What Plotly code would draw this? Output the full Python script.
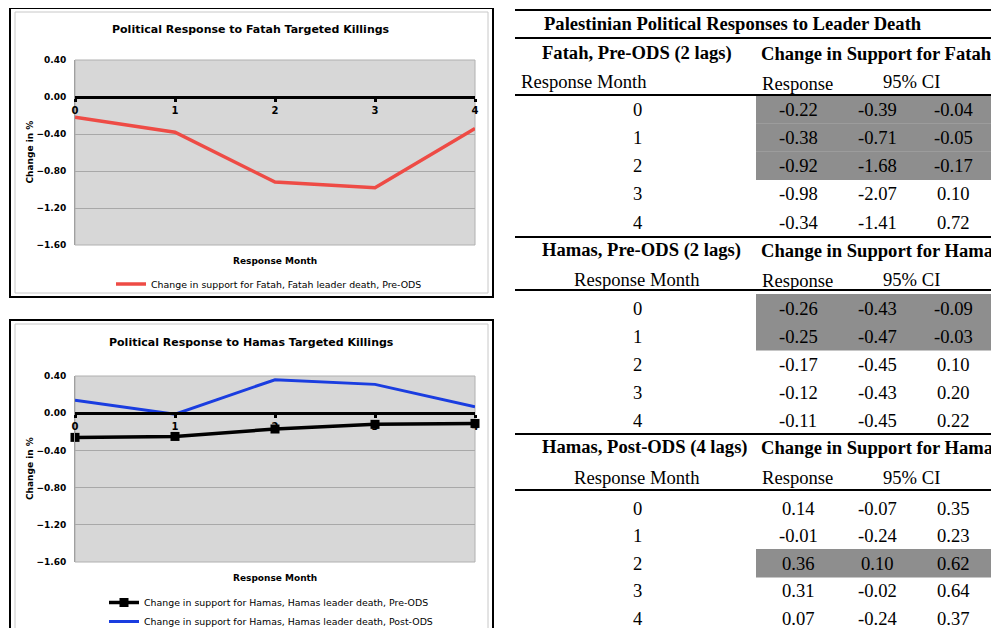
import plotly.graph_objects as go

W, H = 999, 628

# ---------------- data ----------------
months = [0, 1, 2, 3, 4]
fatah_pre = [-0.22, -0.38, -0.92, -0.98, -0.34]
hamas_pre = [-0.26, -0.25, -0.17, -0.12, -0.11]
hamas_post = [0.14, -0.01, 0.36, 0.31, 0.07]

fatah_lo = [-0.39, -0.71, -1.68, -2.07, -1.41]
fatah_hi = [-0.04, -0.05, -0.17, 0.10, 0.72]
hamas_pre_lo = [-0.43, -0.47, -0.45, -0.43, -0.45]
hamas_pre_hi = [-0.09, -0.03, 0.10, 0.20, 0.22]
hamas_post_lo = [-0.07, -0.24, 0.10, -0.02, -0.24]
hamas_post_hi = [0.35, 0.23, 0.62, 0.64, 0.37]

fatah_sig = [True, True, True, False, False]
hamas_pre_sig = [True, True, False, False, False]
hamas_post_sig = [False, False, True, False, False]

y_ticks = [0.4, 0.0, -0.4, -0.8, -1.2, -1.6]

table_title = "Palestinian Political Responses to Leader Death"
section_names = ["Fatah, Pre-ODS (2 lags)", "Hamas, Pre-ODS (2 lags)", "Hamas, Post-ODS (4 lags)"]
section_change = ["Change in Support for Fatah", "Change in Support for Hamas", "Change in Support for Hamas"]
section_resp = [fatah_pre, hamas_pre, hamas_post]
section_lo = [fatah_lo, hamas_pre_lo, hamas_post_lo]
section_hi = [fatah_hi, hamas_pre_hi, hamas_post_hi]
section_sig = [fatah_sig, hamas_pre_sig, hamas_post_sig]

legend_fatah = "Change in support for Fatah, Fatah leader death, Pre-ODS"
legend_hpre = "Change in support for Hamas, Hamas leader death, Pre-ODS"
legend_hpost = "Change in support for Hamas, Hamas leader death, Post-ODS"

# the page body adds an 8px offset; positions below are screen pixels
OFF = 8


def px(x):
    return (x - OFF) / W


def py(y):
    return 1 - (y - OFF) / H


CHART_FONT = "DejaVu Sans"
SERIF = "Liberation Serif"

fig = go.Figure()

fig.add_trace(go.Scatter(x=months, y=fatah_pre, mode="lines", name=legend_fatah,
                         line=dict(color="#ee4b45", width=3.5), xaxis="x", yaxis="y",
                         legend="legend", showlegend=True, cliponaxis=False))
fig.add_trace(go.Scatter(x=months, y=hamas_pre, mode="lines+markers", name=legend_hpre,
                         line=dict(color="black", width=3.5),
                         marker=dict(symbol="square", size=9, color="black"),
                         xaxis="x2", yaxis="y2", legend="legend2", showlegend=True,
                         cliponaxis=False))
fig.add_trace(go.Scatter(x=months, y=hamas_post, mode="lines", name=legend_hpost,
                         line=dict(color="#1a3de0", width=3),
                         xaxis="x2", yaxis="y2", legend="legend2", showlegend=True,
                         cliponaxis=False))

charts = [
    dict(xa="xaxis", ya="yaxis", xr="x", yr="y", top=60, bot=245, frame_top=8, frame_bot=297),
    dict(xa="xaxis2", ya="yaxis2", xr="x2", yr="y2", top=376, bot=562, frame_top=320, frame_bot=660),
]

shapes = []
annotations = []
layout_axes = {}


def note(x, y, s, family, size, xanchor="center", yanchor="middle", angle=0):
    annotations.append(dict(text=s, x=px(x), y=py(y), xref="paper", yref="paper",
                            showarrow=False, xanchor=xanchor, yanchor=yanchor,
                            textangle=angle, font=dict(family=family, size=size, color="black")))


for c in charts:
    y0px = c["top"] + (0.4 / 2.0) * (c["bot"] - c["top"])
    layout_axes[c["xa"]] = dict(
        domain=[px(75), px(475)], range=[0, 4], anchor="free", position=py(y0px),
        showline=True, linecolor="black", linewidth=3,
        ticks="outside", ticklen=3, tickwidth=3, tickcolor="black",
        tickvals=months, ticktext=[str(m) for m in months],
        tickfont=dict(family=CHART_FONT, size=10, color="black", weight="bold"),
        showgrid=False, zeroline=False, fixedrange=True, automargin=False,
    )
    layout_axes[c["ya"]] = dict(
        domain=[py(c["bot"]), py(c["top"])], range=[-1.6, 0.4], anchor=c["xr"],
        tickvals=y_ticks, tickformat=".2f",
        tickfont=dict(family=CHART_FONT, size=9, color="black", weight="bold"),
        showgrid=True, gridcolor="#a8a8a8", gridwidth=1,
        showline=True, linecolor="#a0a0a0", linewidth=1,
        zeroline=False, ticks="", ticklabelstandoff=6, fixedrange=True, automargin=False,
    )
    shapes.append(dict(type="rect", xref=c["xr"] + " domain", yref=c["yr"] + " domain",
                       x0=0, x1=1, y0=0, y1=1, line=dict(color="#b0b0b0", width=1),
                       layer="below"))
    shapes.append(dict(type="rect", xref="paper", yref="paper",
                       x0=px(10), x1=px(493), y0=py(c["frame_bot"]), y1=py(c["frame_top"]),
                       line=dict(color="black", width=2)))
    shapes.append(dict(type="rect", xref="paper", yref="paper",
                       x0=px(15), x1=px(488), y0=py(c["frame_bot"] - 4), y1=py(c["frame_top"] + 4),
                       line=dict(color="#c8c8c8", width=1)))
    note(30, (c["top"] + c["bot"]) / 2, "<b>Change in %</b>", CHART_FONT, 9, angle=-90)
    note(275, c["bot"] + 16, "<b>Response Month</b>", CHART_FONT, 9)

note(251, 29, "<b>Political Response to Fatah Targeted Killings</b>", CHART_FONT, 11)
note(251, 342, "<b>Political Response to Hamas Targeted Killings</b>", CHART_FONT, 11)

# ---------------- table ----------------
TS = 18.6


def txt(x, y, s, bold=False, anchor="center"):
    note(x, y, ("<b>%s</b>" % s) if bold else s, SERIF, TS, xanchor=anchor)


for ly in [10, 38, 95, 237, 290, 434, 490]:
    shapes.append(dict(type="line", xref="paper", yref="paper", x0=px(515), x1=1.0,
                       y0=py(ly), y1=py(ly), line=dict(color="black", width=2)))

txt(733, 24, table_title, bold=True)

sec_header_y = [53, 250, 447]
sec_rm_y = [82, 279, 477]
sec_row0 = [109, 308, 508]
sec_step = [28.3, 28.0, 27.5]

for s in range(3):
    txt(540, sec_header_y[s], section_names[s], bold=True, anchor="left")
    txt(759, sec_header_y[s], section_change[s], bold=True, anchor="left")
    if s == 0:
        txt(519, sec_rm_y[s], "Response Month", anchor="left")
    else:
        txt(637, sec_rm_y[s], "Response Month")
    txt(797, sec_rm_y[s] + 1, "Response")
    txt(911, sec_rm_y[s], "95% CI")
    for i, m in enumerate(months):
        yc = sec_row0[s] + sec_step[s] * i
        if section_sig[s][i]:
            shapes.append(dict(type="rect", xref="paper", yref="paper", layer="below",
                               x0=px(756), x1=px(992), y0=py(yc + 14.5), y1=py(yc - 14),
                               fillcolor="#8e8e8e", line=dict(width=0)))
        txt(637, yc, str(m))
        txt(798, yc, "%.2f" % section_resp[s][i])
        txt(877, yc, "%.2f" % section_lo[s][i])
        txt(953, yc, "%.2f" % section_hi[s][i])

fig.update_layout(
    width=W, height=H, margin=dict(l=0, r=0, t=0, b=0, autoexpand=False),
    paper_bgcolor="white", plot_bgcolor="#d7d7d7", showlegend=True,
    shapes=shapes, annotations=annotations,
    legend=dict(x=px(111), y=py(284), xanchor="left", yanchor="middle",
                bgcolor="rgba(0,0,0,0)", itemwidth=30,
                font=dict(family=CHART_FONT, size=9.4, color="black")),
    legend2=dict(x=px(104), y=py(612), xanchor="left", yanchor="middle",
                 bgcolor="rgba(0,0,0,0)", itemwidth=30, tracegroupgap=0,
                 font=dict(family=CHART_FONT, size=9.4, color="black")),
    **layout_axes,
)

fig.write_html("out.html")
